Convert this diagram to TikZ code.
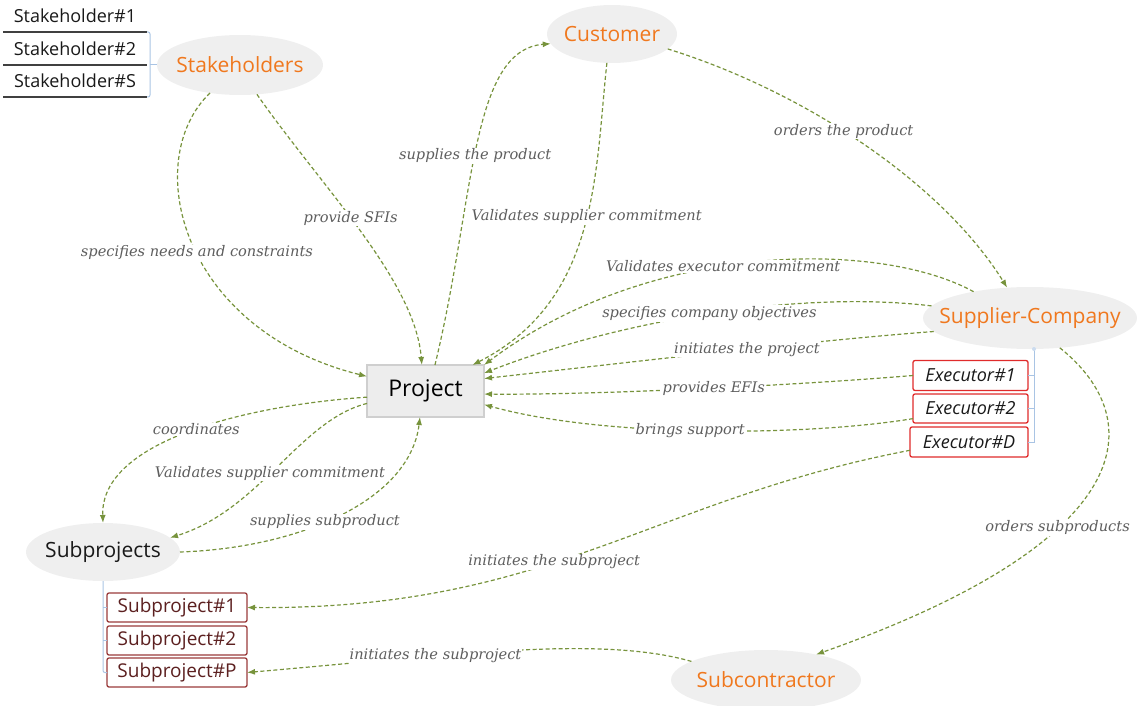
\documentclass[tikz,border=0pt]{standalone}
\usepackage{fontspec}
\setmainfont{Open Sans}
\newfontfamily\lblfont{DejaVu Serif}
\usetikzlibrary{shapes.geometric,arrows.meta,calc}
\definecolor{orng}{HTML}{F0781E}
\definecolor{ovalfill}{HTML}{EFEFEF}
\definecolor{edgegreen}{HTML}{77933C}
\definecolor{lblgray}{HTML}{5E5E5E}
\definecolor{exred}{HTML}{E02B2B}
\definecolor{spred}{HTML}{9A3B3B}
\definecolor{sptext}{HTML}{5C2020}
\definecolor{brkblue}{HTML}{A9C4E4}
\definecolor{projfill}{HTML}{EDEDED}
\definecolor{projdraw}{HTML}{CFCFCF}
\begin{document}
\begin{tikzpicture}[x=1pt,y=-1pt,
  oval/.style={ellipse,fill=ovalfill,draw=none,inner sep=0pt,outer sep=0pt,font=\fontsize{21}{24}\selectfont},
  projbox/.style={rectangle,fill=projfill,draw=projdraw,line width=1.5pt,minimum width=117pt,minimum height=52pt,inner sep=0pt,outer sep=0pt,font=\fontsize{23}{26}\selectfont},
  itm/.style={rectangle,draw=none,minimum width=144pt,minimum height=32pt,inner sep=0pt,outer sep=0pt,font=\fontsize{18}{20}\selectfont,text=black!90},
  exbox/.style={rectangle,rounded corners=2pt,draw=exred,line width=1.3pt,fill=white,minimum height=30pt,inner sep=0pt,outer sep=0pt,font=\fontsize{18}{20}\selectfont\itshape,text=black!90},
  spbox/.style={rectangle,rounded corners=2pt,draw=spred,line width=1.3pt,fill=white,minimum width=140pt,minimum height=29pt,inner sep=0pt,outer sep=0pt,font=\fontsize{19}{21}\selectfont,text=sptext},
  uline/.style={draw=black!75,line width=1.2pt},
  brk/.style={draw=brkblue,line width=1pt},
  conn/.style={draw=edgegreen,line width=1.2pt,dash pattern=on 4pt off 2.5pt,-{Latex[length=8pt,width=6pt]}},
  lbl/.style={font=\lblfont\itshape\fontsize{14.6}{17}\selectfont,text=lblgray,fill=white,inner sep=1pt}
]
\useasboundingbox (0,0) rectangle (1137,706);

% main ellipses and project
\node[oval,minimum width=166pt,minimum height=60pt,text=orng] (stk) at (240,65) {\makebox[0pt]{Stakeholders}};
\node[oval,minimum width=130pt,minimum height=58pt,text=orng] (cust) at (612,34) {\makebox[0pt]{Customer}};
\node[oval,minimum width=214pt,minimum height=62pt,text=orng] (sup) at (1030,318) {\makebox[0pt]{Supplier-Company}};
\node[oval,minimum width=190pt,minimum height=60pt,text=orng] (subc) at (766,680) {\makebox[0pt]{Subcontractor}};
\node[oval,minimum width=154pt,minimum height=58pt,text=black!90] (subp) at (103,552) {\makebox[0pt]{Subprojects}};
\node[projbox] (proj) at (425.5,391) {Project};

% stakeholder list
\node[itm] (stkA) at (75,16) {Stakeholder\#1};
\node[itm] (stkB) at (75,49) {Stakeholder\#2};
\node[itm] (stkC) at (75,81) {Stakeholder\#S};
\draw[uline] (stkA.south west) -- (stkA.south east);
\draw[uline] (stkB.south west) -- (stkB.south east);
\draw[uline] (stkC.south west) -- (stkC.south east);
\draw[brk,rounded corners=2pt] (stkA.south east) -- ++(3,0) |- (stkC.south east);
\draw[brk] ($(stkB.south east)+(3,0)$) -- (stk.west);

% executors
\node[exbox,minimum width=115pt] (ex1) at (970.5,375.5) {Executor\#1};
\node[exbox,minimum width=115pt,minimum height=29pt] (ex2) at (970.5,408.5) {Executor\#2};
\node[exbox,minimum width=118pt] (exD) at (969,442) {Executor\#D};
\coordinate (exB) at ($(exD.east)+(6,0)$);
\draw[brk] (ex1.east) -- (ex1.east -| exB);
\draw[brk] (ex2.east) -- (ex2.east -| exB);
\draw[brk] (exD.east) -- (exB) -- (exB |- sup.south);
\fill[brkblue!60] (exB |- sup.south) circle (2pt);

% subprojects
\node[spbox] (s1) at (177,607.5) {Subproject\#1};
\node[spbox] (s2) at (177,640.5) {Subproject\#2};
\node[spbox] (sP) at (177,672.5) {Subproject\#P};
\draw[brk,rounded corners=2pt] (subp.south) |- (sP.west);
\draw[brk] (s1.west) -- (s1.west -| subp.south);
\draw[brk] (s2.west) -- (s2.west -| subp.south);

% connectors
\draw[conn] (stk.223) .. controls (140,160) and (180,330) .. node[lbl,pos=0.53]{specifies needs and constraints} (proj.166);
\draw[conn] (stk.300) .. controls (320,185) and (415,280) .. node[lbl,pos=0.45]{provide SFIs} (proj.98);
\draw[conn] (proj.70) .. controls (475,200) and (470,50) .. node[lbl,pos=0.47]{supplies the product} (cust.189);
\draw[conn] (cust.260) .. controls (595,170) and (600,300) .. node[lbl,pos=0.46]{Validates supplier commitment} (proj.29);
\draw[conn] (cust.345) .. controls (800,90) and (940,180) .. node[lbl,pos=0.45]{orders the product} (sup.127);
\draw[conn] (sup.155) .. controls (880,240) and (650,240) .. node[lbl,pos=0.56]{Validates executor commitment} (proj.north east);
\draw[conn] (sup.173) .. controls (800,290) and (620,320) .. node[lbl,pos=0.5]{specifies company objectives} (proj.17);
\draw[conn] (sup.188) .. controls (820,340) and (650,360) .. node[lbl,pos=0.46]{initiates the project} (proj.12);
\draw[conn] (ex1.west) .. controls (800,385) and (600,395) .. node[lbl,pos=0.47]{provides EFIs} (proj.357);
\draw[conn] (ex2.190) .. controls (800,437) and (600,437) .. node[lbl,pos=0.52]{brings support} (proj.347);
\draw[conn] (exD.188) .. controls (650,500) and (550,610) .. node[lbl,pos=0.57]{initiates the subproject} (s1.east);
\draw[conn] (sup.315) .. controls (1150,420) and (1140,540) .. node[lbl,pos=0.63]{orders subproducts} (subc.27);
\draw[conn] (subc.166) .. controls (600,635) and (450,655) .. node[lbl,pos=0.66]{initiates the subproject} (sP.east);
\draw[conn] (proj.186) .. controls (250,405) and (100,440) .. node[lbl,pos=0.48]{coordinates} (subp.north);
\draw[conn] (proj.192) .. controls (300,420) and (260,510) .. node[lbl,pos=0.54]{Validates supplier commitment} (subp.12);
\draw[conn] (subp.east) .. controls (300,548) and (410,500) .. node[lbl,pos=0.44]{supplies subproduct} (proj.258);
\end{tikzpicture}
\end{document}
